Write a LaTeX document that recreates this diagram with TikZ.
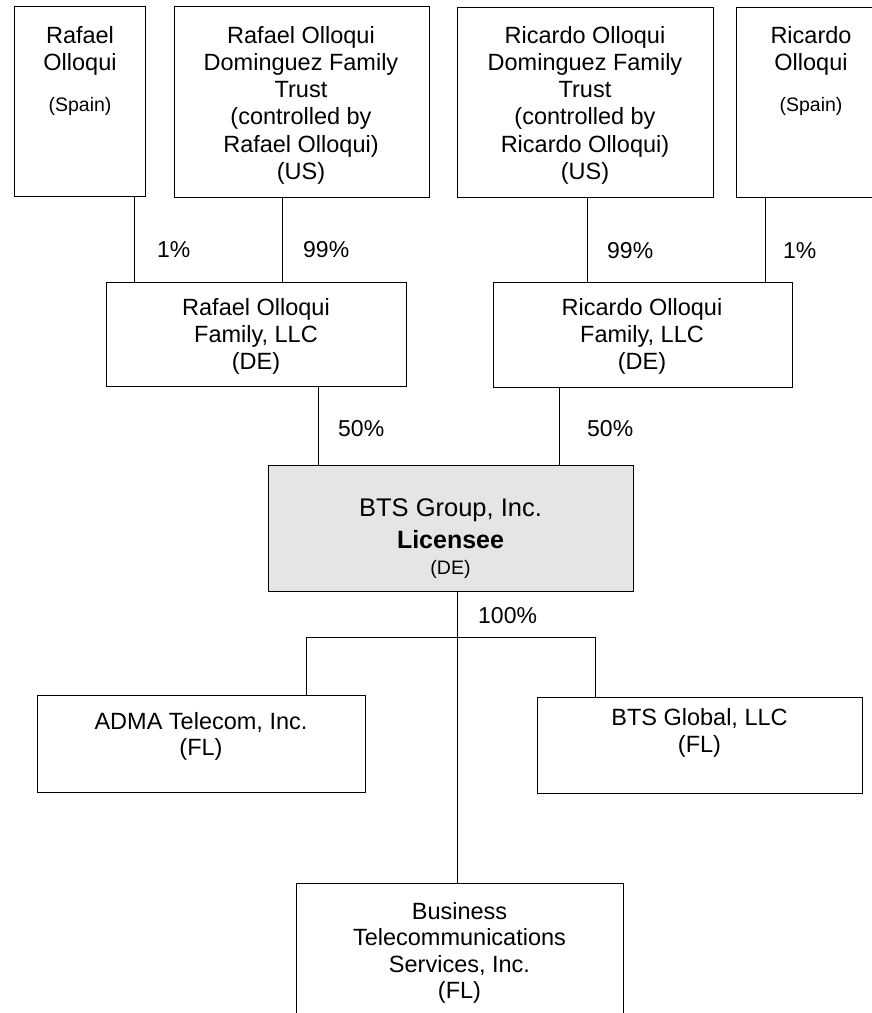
\documentclass[tikz,border=0pt]{standalone}
\usepackage{fontspec}
\setmainfont{Liberation Sans}
\begin{document}
\begin{tikzpicture}[x=1pt,y=-1pt,
  box/.style={draw=black, line width=1pt, inner sep=0pt, outer sep=0pt, anchor=north west},
  txt/.style={inner sep=0pt, align=center, anchor=north, font=\fontsize{23.5}{27.2}\selectfont},
  sml/.style={inner sep=0pt, align=center, anchor=north, font=\fontsize{19.5}{22}\selectfont},
  pct/.style={inner sep=0pt, anchor=north west, font=\fontsize{23}{26}\selectfont},
  conn/.style={line width=1pt}]
\useasboundingbox (0,0) rectangle (872,1013);
\clip (0,0) rectangle (872,1013);
% boxes
\node[box, minimum width=131pt, minimum height=190pt] (ro) at (14,6) {};
\node[box, minimum width=255pt, minimum height=191pt] (rt) at (174,6) {};
\node[box, minimum width=256pt, minimum height=190pt] (ct) at (457,7) {};
\node[box, minimum width=150pt, minimum height=190pt] (co) at (736,7) {};
\node[box, minimum width=300pt, minimum height=104pt] (rl) at (106,282) {};
\node[box, minimum width=299pt, minimum height=105pt] (cl) at (493,282) {};
\node[box, minimum width=365pt, minimum height=126pt, fill=black!10] (bts) at (268,465) {};
\node[box, minimum width=328pt, minimum height=97pt] (adma) at (37,695) {};
\node[box, minimum width=325pt, minimum height=96pt] (glob) at (537,697) {};
\node[box, minimum width=327pt, minimum height=160pt] (bus) at (296,883) {};
% texts
\node[txt] (rot) at (80,26) {Rafael\\Olloqui};
\node[sml] (ros) at (80,97) {(Spain)};
\node[txt] (rtt) at (301,26) {Rafael Olloqui\\Dominguez Family\\Trust\\(controlled by\\Rafael Olloqui)\\(US)};
\node[txt] (ctt) at (585,26) {Ricardo Olloqui\\Dominguez Family\\Trust\\(controlled by\\Ricardo Olloqui)\\(US)};
\node[txt] (cot) at (811,26) {Ricardo\\Olloqui};
\node[sml] (cos) at (811,97) {(Spain)};
\node[txt] (rlt) at (256,298) {Rafael Olloqui\\Family, LLC\\(DE)};
\node[txt] (clt) at (642,298) {Ricardo Olloqui\\Family, LLC\\(DE)};
\node[txt, font=\fontsize{25.5}{28}\selectfont] (btst) at (450.5,498) {BTS Group, Inc.};
\node[txt, font=\fontsize{25}{28}\selectfont\bfseries] (btsl) at (450.5,530) {Licensee};
\node[sml] (btsd) at (450.5,560) {(DE)};
\node[txt, font=\fontsize{23.5}{26}\selectfont] (admat) at (201,712) {ADMA Telecom, Inc.\\(FL)};
\node[txt, font=\fontsize{23.5}{27}\selectfont] (globt) at (699.5,708) {BTS Global, LLC\\(FL)};
\node[txt, font=\fontsize{23.5}{26.5}\selectfont] (bust) at (459.5,902) {Business\\Telecommunications\\Services, Inc.\\(FL)};
% percentages
\node[pct] (p1) at (157,241) {1\%};
\node[pct] (p2) at (303,241) {99\%};
\node[pct] (p3) at (607,242) {99\%};
\node[pct] (p4) at (783,242) {1\%};
\node[pct] (p5) at (338,420) {50\%};
\node[pct] (p6) at (587,420) {50\%};
\node[pct] (p7) at (478,607) {100\%};
% connectors
\draw[conn] (134,0 |- ro.south) -- (134,0 |- rl.north);
\draw[conn] (282,0 |- rt.south) -- (282,0 |- rl.north);
\draw[conn] (587,0 |- ct.south) -- (587,0 |- cl.north);
\draw[conn] (765,0 |- co.south) -- (765,0 |- cl.north);
\draw[conn] (318,0 |- rl.south) -- (318,0 |- bts.north);
\draw[conn] (559,0 |- cl.south) -- (559,0 |- bts.north);
\draw[conn] (457,0 |- bts.south) -- (457,0 |- bus.north);
\coordinate (brl) at (306,637);
\coordinate (brr) at (595,637);
\draw[conn] (306,0 |- adma.north) -- (brl) -- (brr) -- (595,0 |- glob.north);
\end{tikzpicture}
\end{document}
